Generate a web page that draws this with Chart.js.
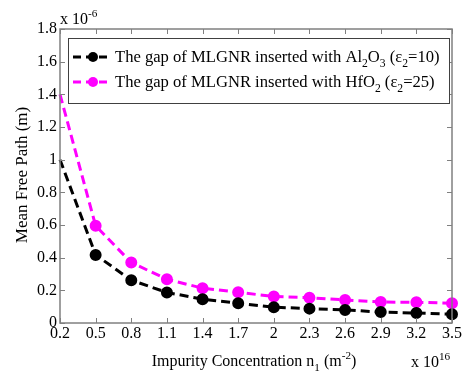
<!DOCTYPE html>
<html>
<head>
<meta charset="utf-8">
<script src="https://cdn.jsdelivr.net/npm/chart.js@4"></script>
<style>
    html, body { margin: 0; padding: 0; background: #fff; }
    #wrap { width: 464px; height: 376px; }
</style>
</head>
<body>
<div id="wrap"><canvas id="mfp-chart" width="464" height="376"></canvas></div>
<script>
const concentrations = ['0.2', '0.5', '0.8', '1.1', '1.4', '1.7', '2', '2.3', '2.6', '2.9', '3.2', '3.5'];
const al2o3Path = [1.0, 0.417, 0.262, 0.187, 0.146, 0.121, 0.097, 0.088, 0.080, 0.067, 0.061, 0.054];
const hfo2Path = [1.4, 0.595, 0.370, 0.268, 0.213, 0.188, 0.162, 0.155, 0.141, 0.128, 0.127, 0.121];
const yTicks = [0, 0.2, 0.4, 0.6, 0.8, 1, 1.2, 1.4, 1.6, 1.8];

const serif = '"Liberation Serif", "DejaVu Serif", serif';
const frameColor = '#808080';

// draws segments of text, some lowered (sub) or raised (sup)
function drawRich(ctx, parts, x, y, size) {
    let cx = x;
    parts.forEach(p => {
        const small = p.sub || p.sup;
        ctx.font = (small ? size * 0.7 : size) + 'px ' + serif;
        const dy = p.sub ? size * 0.3 : (p.sup ? -size * 0.45 : 0);
        ctx.fillText(p.t, cx, y + dy);
        cx += ctx.measureText(p.t).width;
    });
    return cx - x;
}

const decorations = {
    id: 'decorations',
    afterDraw(chart) {
        const ctx = chart.ctx;
        const a = chart.chartArea;
        const xs = chart.scales.x, ys = chart.scales.y;
        ctx.save();
        // frame
        ctx.strokeStyle = frameColor;
        ctx.lineWidth = 1.5;
        ctx.strokeRect(a.left, a.top, a.right - a.left, a.bottom - a.top);
        // inward ticks
        ctx.lineWidth = 1;
        ctx.beginPath();
        concentrations.forEach((c, i) => {
            const px = Math.round(xs.getPixelForValue(i)) + 0.5;
            ctx.moveTo(px, a.bottom); ctx.lineTo(px, a.bottom - 5);
            ctx.moveTo(px, a.top); ctx.lineTo(px, a.top + 5);
        });
        yTicks.forEach(v => {
            const py = Math.round(ys.getPixelForValue(v)) + 0.5;
            ctx.moveTo(a.left, py); ctx.lineTo(a.left + 5, py);
            ctx.moveTo(a.right, py); ctx.lineTo(a.right - 5, py);
        });
        ctx.stroke();

        ctx.fillStyle = '#000';
        ctx.textBaseline = 'alphabetic';
        ctx.textAlign = 'left';
        // exponent labels
        drawRich(ctx, [{t: 'x 10'}, {t: '-6', sup: true}], 60, 24, 16);
        drawRich(ctx, [{t: 'x 10'}, {t: '16', sup: true}], 411, 367, 16);
        // x title
        const xParts = [{t: 'Impurity Concentration n'}, {t: '1', sub: true}, {t: ' (m'}, {t: '-2', sup: true}, {t: ')'}];
        let w = 0;
        xParts.forEach(p => { ctx.font = ((p.sub || p.sup) ? 11.2 : 16) + 'px ' + serif; w += ctx.measureText(p.t).width; });
        drawRich(ctx, xParts, 254 - w / 2, 366, 16);
        // y title
        ctx.save();
        ctx.translate(27, 175);
        ctx.rotate(-Math.PI / 2);
        ctx.font = '17px ' + serif;
        ctx.textAlign = 'center';
        ctx.fillText('Mean Free Path (m)', 0, 0);
        ctx.restore();

        // legend
        const lx = 68, ly = 38, lw = 381, lh = 65;
        ctx.fillStyle = '#fff';
        ctx.fillRect(lx, ly, lw, lh);
        ctx.strokeStyle = '#404040';
        ctx.lineWidth = 1;
        ctx.strokeRect(lx + 0.5, ly + 0.5, lw, lh);
        const rows = [
            {color: '#000000', y: 57, parts: [{t: 'The gap of MLGNR inserted with Al'}, {t: '2', sub: true}, {t: 'O'}, {t: '3', sub: true}, {t: ' (\u03b5'}, {t: '2', sub: true}, {t: '=10)'}]},
            {color: '#ff00ff', y: 82, parts: [{t: 'The gap of MLGNR inserted with HfO'}, {t: '2', sub: true}, {t: ' (\u03b5'}, {t: '2', sub: true}, {t: '=25)'}]}
        ];
        rows.forEach(r => {
            ctx.strokeStyle = r.color;
            ctx.fillStyle = r.color;
            ctx.lineWidth = 3;
            ctx.setLineDash([8, 5]);
            ctx.beginPath();
            ctx.moveTo(73, r.y); ctx.lineTo(112, r.y);
            ctx.stroke();
            ctx.setLineDash([]);
            ctx.beginPath();
            ctx.arc(93, r.y, 5, 0, Math.PI * 2);
            ctx.fill();
            ctx.fillStyle = '#000';
            drawRich(ctx, r.parts, 115, r.y + 5, 16.6);
        });
        ctx.restore();
    }
};

function series(values, color) {
    return {
        data: values,
        borderColor: color,
        backgroundColor: color,
        pointBackgroundColor: color,
        pointBorderColor: color,
        borderWidth: 3,
        borderDash: [9, 5],
        // first point sits on the axis and shows no marker
        pointRadius: ctx => ctx.dataIndex === 0 ? 0 : 4.5,
        pointHoverRadius: ctx => ctx.dataIndex === 0 ? 0 : 4.5,
        tension: 0
    };
}

new Chart(document.getElementById('mfp-chart'), {
    type: 'line',
    data: {
        labels: concentrations,
        datasets: [series(al2o3Path, '#000000'), series(hfo2Path, '#ff00ff')]
    },
    options: {
        responsive: false,
        animation: false,
        layout: {padding: {top: 29, right: 12, left: 0, bottom: 0}},
        plugins: {legend: {display: false}, tooltip: {enabled: false}},
        scales: {
            x: {
                type: 'category',
                offset: false,
                grid: {display: false, drawTicks: false},
                border: {display: false},
                ticks: {color: '#000', font: {family: serif, size: 16}, padding: 1, maxRotation: 0, autoSkip: false},
                afterFit(scale) { scale.height = 53; }
            },
            y: {
                min: 0,
                max: 1.8,
                grid: {display: false, drawTicks: false},
                border: {display: false},
                afterBuildTicks(scale) { scale.ticks = yTicks.map(v => ({value: v})); },
                ticks: {
                    color: '#000',
                    font: {family: serif, size: 16},
                    padding: 3,
                    callback: v => String(Math.round(v * 10) / 10)
                },
                afterFit(scale) { scale.width = 60; }
            }
        }
    },
    plugins: [decorations]
});
</script>
</body>
</html>
